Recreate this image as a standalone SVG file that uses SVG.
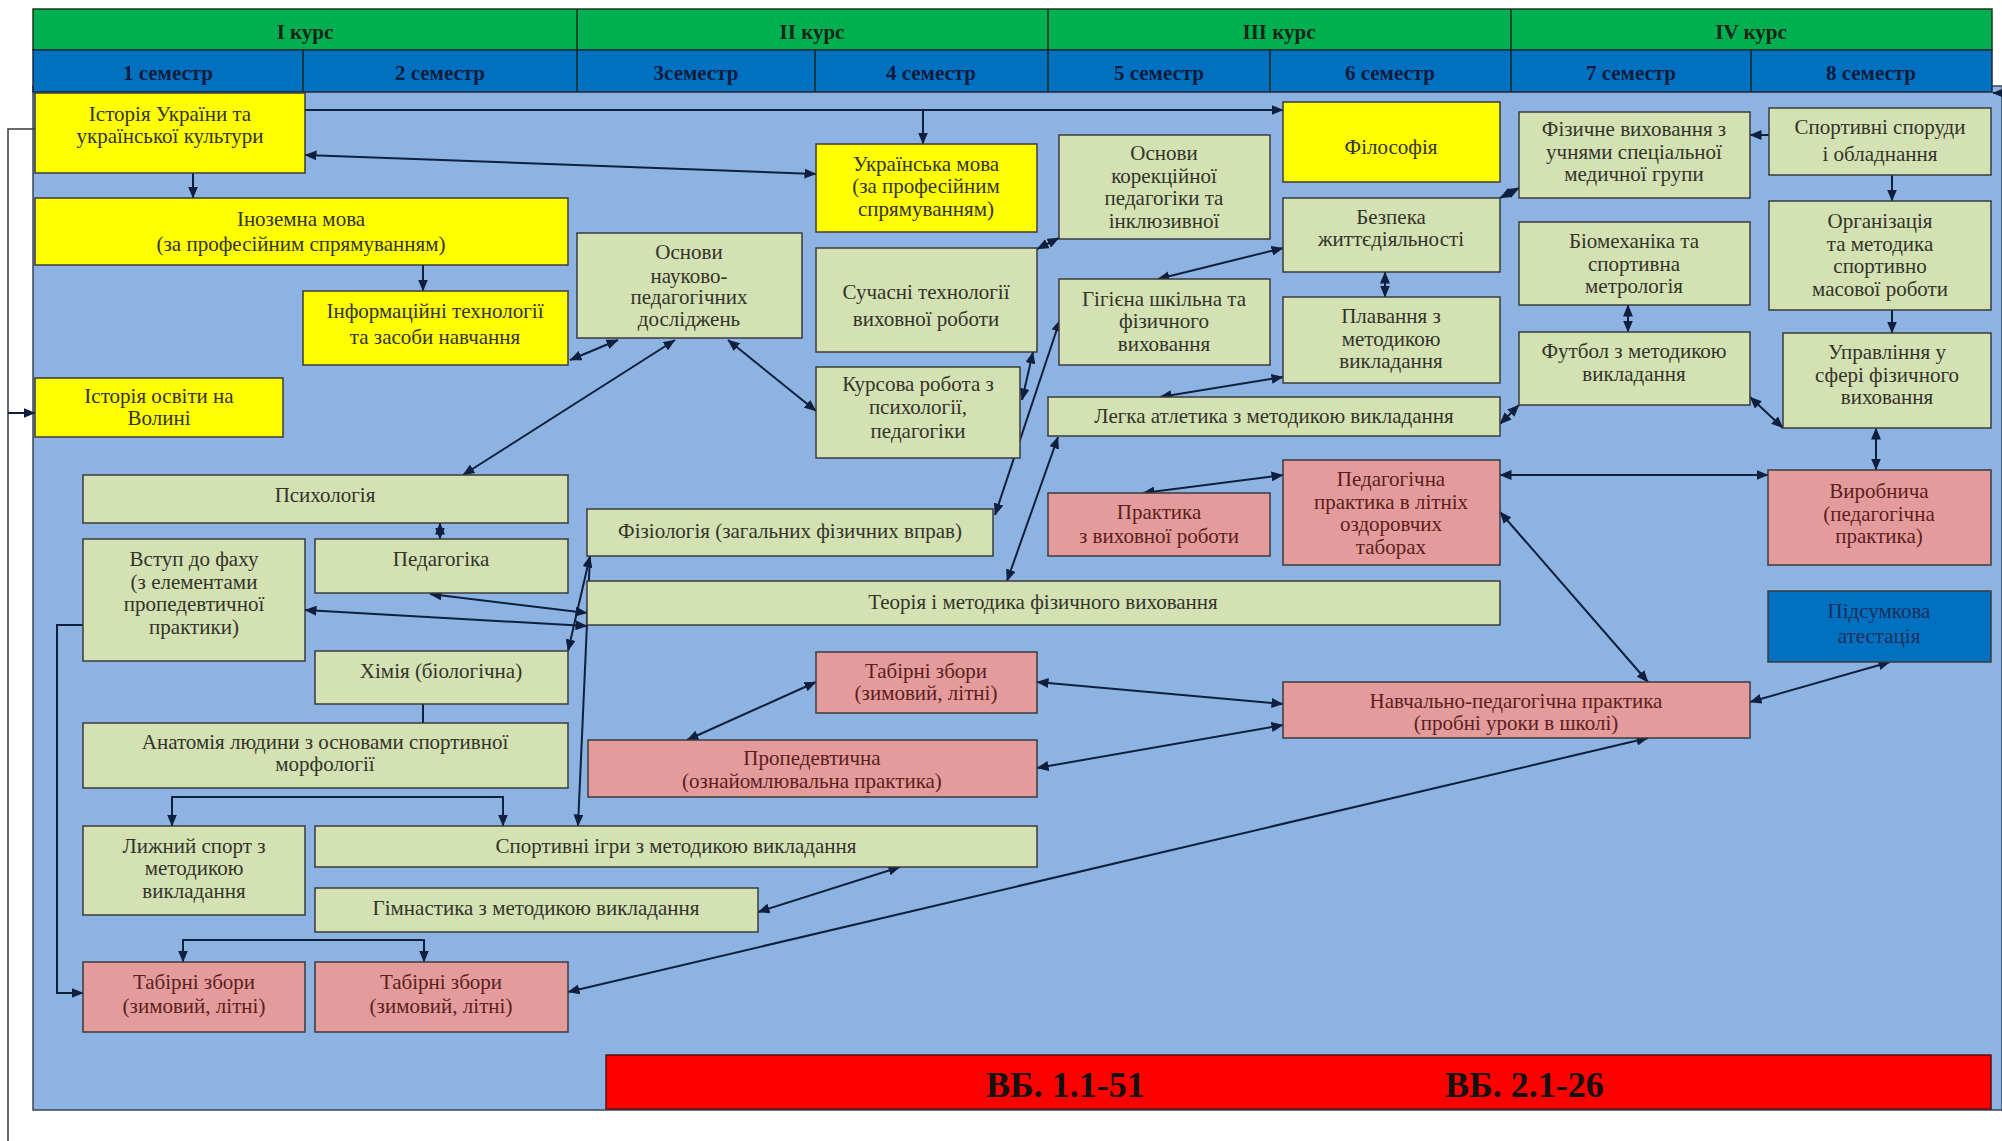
<svg xmlns="http://www.w3.org/2000/svg" width="2002" height="1141" viewBox="0 0 2002 1141">
<style>
.bx{stroke:#3b3b3b;stroke-width:1.5}
.yl{fill:#FFFF00}
.gr{fill:#D4E1B3}
.pk{fill:#E39C9B}
.bl{fill:#0070C0}
.t{font-family:"Liberation Serif","Times New Roman",serif;font-size:21px;text-anchor:middle;fill:#33332a}
.tp{fill:#5c1d1d}
.tb{fill:#1a2f5a}
.h{font-family:"Liberation Serif","Times New Roman",serif;font-size:21px;font-weight:bold;text-anchor:middle;fill:#14261a}
.hs{fill:#0b1c3d}
.c{fill:none;stroke:#0f1f3d;stroke-width:2}
.cl{fill:none;stroke:#3a3a3a;stroke-width:1.5}
.vb{font-family:"Liberation Serif","Times New Roman",serif;font-size:36px;font-weight:bold;fill:#111}
</style>
<defs>
<marker id="a" viewBox="0 0 12 10" refX="11.5" refY="5" markerWidth="12" markerHeight="10" markerUnits="userSpaceOnUse" orient="auto-start-reverse"><path d="M0,0 L12,5 L0,10 z" fill="#0f1f3d"/></marker>
</defs>
<rect x="0" y="0" width="2002" height="1141" fill="#ffffff"/>
<rect x="33" y="86" width="1969" height="1024" fill="#8DB3E2" stroke="#3a4656" stroke-width="1.5"/>
<g id="header">
<rect x="33" y="9" width="1959" height="41" fill="#00B050" stroke="#1e3a1e" stroke-width="1.5"/>
<rect x="33" y="50" width="1959" height="42" fill="#0070C0" stroke="#1e2a3a" stroke-width="1.5"/>
<path d="M577,9V92 M1048,9V92 M1511,9V92 M303,50V92 M815,50V92 M1270,50V92 M1751,50V92" stroke="#1e2a1e" stroke-width="1.5"/>
<text class="h" x="305" y="39">I курс</text>
<text class="h" x="812" y="39">II курс</text>
<text class="h" x="1279" y="39">III курс</text>
<text class="h" x="1751" y="39">IV курс</text>
<text class="h hs" x="168" y="80">1 семестр</text>
<text class="h hs" x="440" y="80">2 семестр</text>
<text class="h hs" x="696" y="80">3семестр</text>
<text class="h hs" x="931" y="80">4 семестр</text>
<text class="h hs" x="1159" y="80">5 семестр</text>
<text class="h hs" x="1390" y="80">6 семестр</text>
<text class="h hs" x="1631" y="80">7 семестр</text>
<text class="h hs" x="1871" y="80">8 семестр</text>
</g>
<g id="connectors">
<path class="c" d="M305,110 H1283" marker-end="url(#a)"/>
<path class="c" d="M923,110 V144" marker-end="url(#a)"/>
<path class="c" d="M305,155 L816,174" marker-start="url(#a)" marker-end="url(#a)"/>
<path class="c" d="M193,173 V198" marker-end="url(#a)"/>
<path class="c" d="M423,265 V291" marker-end="url(#a)"/>
<path class="cl" d="M35,129 H8 V1141"/>
<path class="c" d="M8,413 H35" marker-end="url(#a)"/>
<path class="c" d="M570,360 L618,340" marker-start="url(#a)" marker-end="url(#a)"/>
<path class="c" d="M675,340 L463,475" marker-start="url(#a)" marker-end="url(#a)"/>
<path class="c" d="M728,340 L816,411" marker-start="url(#a)" marker-end="url(#a)"/>
<path class="c" d="M1033,352 L1022,400" marker-start="url(#a)" marker-end="url(#a)"/>
<path class="c" d="M1037,249 L1059,238" marker-start="url(#a)" marker-end="url(#a)"/>
<path class="c" d="M1283,248 L1158,279" marker-start="url(#a)" marker-end="url(#a)"/>
<path class="c" d="M1385,272 V297" marker-start="url(#a)" marker-end="url(#a)"/>
<path class="c" d="M1283,377 L1160,397" marker-start="url(#a)" marker-end="url(#a)"/>
<path class="c" d="M1060,320 L995,515" marker-start="url(#a)" marker-end="url(#a)"/>
<path class="c" d="M1058,437 L1007,581" marker-start="url(#a)" marker-end="url(#a)"/>
<path class="c" d="M1283,475 L1143,493" marker-start="url(#a)" marker-end="url(#a)"/>
<path class="c" d="M1519,188 L1500,198" marker-start="url(#a)" marker-end="url(#a)"/>
<path class="c" d="M1769,135 H1750" marker-end="url(#a)"/>
<path class="c" d="M1892,175 V201" marker-end="url(#a)"/>
<path class="c" d="M1892,310 V333" marker-end="url(#a)"/>
<path class="c" d="M1628,305 V332" marker-start="url(#a)" marker-end="url(#a)"/>
<path class="c" d="M1519,405 L1500,424" marker-start="url(#a)" marker-end="url(#a)"/>
<path class="c" d="M1750,397 L1783,428" marker-start="url(#a)" marker-end="url(#a)"/>
<path class="c" d="M1876,428 V470" marker-start="url(#a)" marker-end="url(#a)"/>
<path class="c" d="M1500,475 H1768" marker-start="url(#a)" marker-end="url(#a)"/>
<path class="c" d="M1500,512 L1648,682" marker-start="url(#a)" marker-end="url(#a)"/>
<path class="c" d="M1750,702 L1890,662" marker-start="url(#a)" marker-end="url(#a)"/>
<path class="c" d="M1037,682 L1283,704" marker-start="url(#a)" marker-end="url(#a)"/>
<path class="c" d="M1037,768 L1283,725" marker-start="url(#a)" marker-end="url(#a)"/>
<path class="c" d="M816,682 L687,740" marker-start="url(#a)" marker-end="url(#a)"/>
<path class="c" d="M568,992 L1648,738" marker-start="url(#a)" marker-end="url(#a)"/>
<path class="c" d="M758,912 L900,867" marker-start="url(#a)" marker-end="url(#a)"/>
<path class="c" d="M440,523 V539" marker-start="url(#a)" marker-end="url(#a)"/>
<path class="c" d="M430,594 L587,613" marker-start="url(#a)" marker-end="url(#a)"/>
<path class="c" d="M305,610 L587,626" marker-start="url(#a)" marker-end="url(#a)"/>
<path class="c" d="M590,556 L568,651" marker-start="url(#a)" marker-end="url(#a)"/>
<path class="c" d="M590,556 L578,826" marker-end="url(#a)"/>
<path class="c" d="M423,704 V723"/>
<path class="c" d="M172,826 V797 H503 V826" marker-start="url(#a)" marker-end="url(#a)"/>
<path class="c" d="M183,962 V940 H424 V962" marker-start="url(#a)" marker-end="url(#a)"/>
<path class="c" d="M83,625 H57 V993 H83" marker-end="url(#a)"/>
<path class="c" d="M2002,93 H1993" marker-end="url(#a)"/>
</g>
<g id="n-istoriia-ukr"><rect class="bx yl" x="35" y="93" width="270" height="80"/><text class="t"><tspan x="170" y="121">Історія України та</tspan><tspan x="170" y="143">української культури</tspan></text></g>
<g id="n-inozemna"><rect class="bx yl" x="35" y="198" width="533" height="67"/><text class="t"><tspan x="301" y="226">Іноземна мова</tspan><tspan x="301" y="251">(за професійним спрямуванням)</tspan></text></g>
<g id="n-inform"><rect class="bx yl" x="303" y="291" width="265" height="74"/><text class="t"><tspan x="435" y="318">Інформаційні технології</tspan><tspan x="435" y="344">та засоби навчання</tspan></text></g>
<g id="n-istoriia-osv"><rect class="bx yl" x="35" y="378" width="248" height="59"/><text class="t"><tspan x="159" y="403">Історія освіти на</tspan><tspan x="159" y="425">Волині</tspan></text></g>
<g id="n-ukr-mova"><rect class="bx yl" x="816" y="144" width="221" height="88"/><text class="t"><tspan x="926" y="171">Українська мова</tspan><tspan x="926" y="193">(за професійним</tspan><tspan x="926" y="216">спрямуванням)</tspan></text></g>
<g id="n-filosofiia"><rect class="bx yl" x="1283" y="102" width="217" height="80"/><text class="t"><tspan x="1391" y="154">Філософія</tspan></text></g>
<g id="n-osnovy-nauk"><rect class="bx gr" x="577" y="233" width="225" height="105"/><text class="t"><tspan x="689" y="259">Основи</tspan><tspan x="689" y="283">науково-</tspan><tspan x="689" y="304">педагогічних</tspan><tspan x="689" y="326">досліджень</tspan></text></g>
<g id="n-suchasni"><rect class="bx gr" x="816" y="248" width="221" height="104"/><text class="t"><tspan x="926" y="299">Сучасні технології</tspan><tspan x="926" y="326">виховної роботи</tspan></text></g>
<g id="n-kursova"><rect class="bx gr" x="816" y="367" width="204" height="91"/><text class="t"><tspan x="918" y="391">Курсова робота з</tspan><tspan x="918" y="414">психології,</tspan><tspan x="918" y="438">педагогіки</tspan></text></g>
<g id="n-korek"><rect class="bx gr" x="1059" y="135" width="211" height="104"/><text class="t"><tspan x="1164" y="160">Основи</tspan><tspan x="1164" y="183">корекційної</tspan><tspan x="1164" y="205">педагогіки та</tspan><tspan x="1164" y="228">інклюзивної</tspan></text></g>
<g id="n-bezpeka"><rect class="bx gr" x="1283" y="198" width="217" height="74"/><text class="t"><tspan x="1391" y="224">Безпека</tspan><tspan x="1391" y="246">життєдіяльності</tspan></text></g>
<g id="n-gigiena"><rect class="bx gr" x="1059" y="279" width="211" height="86"/><text class="t"><tspan x="1164" y="306">Гігієна шкільна та</tspan><tspan x="1164" y="328">фізичного</tspan><tspan x="1164" y="351">виховання</tspan></text></g>
<g id="n-plavannia"><rect class="bx gr" x="1283" y="297" width="217" height="86"/><text class="t"><tspan x="1391" y="323">Плавання з</tspan><tspan x="1391" y="346">методикою</tspan><tspan x="1391" y="368">викладання</tspan></text></g>
<g id="n-legka"><rect class="bx gr" x="1048" y="397" width="452" height="39"/><text class="t"><tspan x="1274" y="423">Легка атлетика з методикою викладання</tspan></text></g>
<g id="n-fiz-vykh"><rect class="bx gr" x="1519" y="112" width="231" height="86"/><text class="t"><tspan x="1634" y="136">Фізичне виховання з</tspan><tspan x="1634" y="159">учнями спеціальної</tspan><tspan x="1634" y="181">медичної групи</tspan></text></g>
<g id="n-sporudy"><rect class="bx gr" x="1769" y="108" width="222" height="67"/><text class="t"><tspan x="1880" y="134">Спортивні споруди</tspan><tspan x="1880" y="161">і обладнання</tspan></text></g>
<g id="n-biomekh"><rect class="bx gr" x="1519" y="222" width="231" height="83"/><text class="t"><tspan x="1634" y="248">Біомеханіка та</tspan><tspan x="1634" y="271">спортивна</tspan><tspan x="1634" y="293">метрологія</tspan></text></g>
<g id="n-organiz"><rect class="bx gr" x="1769" y="201" width="222" height="109"/><text class="t"><tspan x="1880" y="228">Організація</tspan><tspan x="1880" y="251">та методика</tspan><tspan x="1880" y="273">спортивно</tspan><tspan x="1880" y="296">масової роботи</tspan></text></g>
<g id="n-futbol"><rect class="bx gr" x="1519" y="332" width="231" height="73"/><text class="t"><tspan x="1634" y="358">Футбол з методикою</tspan><tspan x="1634" y="381">викладання</tspan></text></g>
<g id="n-upravl"><rect class="bx gr" x="1783" y="333" width="208" height="95"/><text class="t"><tspan x="1887" y="359">Управління у</tspan><tspan x="1887" y="382">сфері фізичного</tspan><tspan x="1887" y="404">виховання</tspan></text></g>
<g id="n-ped-prakt-tabory"><rect class="bx pk" x="1283" y="460" width="217" height="105"/><text class="t tp"><tspan x="1391" y="486">Педагогічна</tspan><tspan x="1391" y="509">практика в літніх</tspan><tspan x="1391" y="531">оздоровчих</tspan><tspan x="1391" y="554">таборах</tspan></text></g>
<g id="n-prakt-vykh"><rect class="bx pk" x="1048" y="493" width="222" height="63"/><text class="t tp"><tspan x="1159" y="519">Практика</tspan><tspan x="1159" y="543">з виховної роботи</tspan></text></g>
<g id="n-vyrobnycha"><rect class="bx pk" x="1768" y="470" width="223" height="95"/><text class="t tp"><tspan x="1879" y="498">Виробнича</tspan><tspan x="1879" y="521">(педагогічна</tspan><tspan x="1879" y="543">практика)</tspan></text></g>
<g id="n-pidsumkova"><rect class="bx bl" x="1768" y="591" width="223" height="71"/><text class="t tb"><tspan x="1879" y="618">Підсумкова</tspan><tspan x="1879" y="643">атестація</tspan></text></g>
<g id="n-teoriia"><rect class="bx gr" x="587" y="581" width="913" height="44"/><text class="t"><tspan x="1043" y="609">Теорія і методика фізичного виховання</tspan></text></g>
<g id="n-navch-ped"><rect class="bx pk" x="1283" y="682" width="467" height="56"/><text class="t tp"><tspan x="1516" y="708">Навчально-педагогічна практика</tspan><tspan x="1516" y="730">(пробні уроки в школі)</tspan></text></g>
<g id="n-psykholohiia"><rect class="bx gr" x="83" y="475" width="485" height="48"/><text class="t"><tspan x="325" y="502">Психологія</tspan></text></g>
<g id="n-vstup"><rect class="bx gr" x="83" y="539" width="222" height="122"/><text class="t"><tspan x="194" y="566">Вступ до фаху</tspan><tspan x="194" y="589">(з елементами</tspan><tspan x="194" y="611">пропедевтичної</tspan><tspan x="194" y="634">практики)</tspan></text></g>
<g id="n-pedahohika"><rect class="bx gr" x="315" y="539" width="253" height="54"/><text class="t"><tspan x="441" y="566">Педагогіка</tspan></text></g>
<g id="n-khimiia"><rect class="bx gr" x="315" y="651" width="253" height="53"/><text class="t"><tspan x="441" y="678">Хімія (біологічна)</tspan></text></g>
<g id="n-anatomiia"><rect class="bx gr" x="83" y="723" width="485" height="65"/><text class="t"><tspan x="325" y="749">Анатомія людини з основами спортивної</tspan><tspan x="325" y="771">морфології</tspan></text></g>
<g id="n-fiziolohiia"><rect class="bx gr" x="587" y="509" width="406" height="47"/><text class="t"><tspan x="790" y="538">Фізіологія (загальних фізичних вправ)</tspan></text></g>
<g id="n-tabirni-3"><rect class="bx pk" x="816" y="652" width="221" height="61"/><text class="t tp"><tspan x="926" y="678">Табірні збори</tspan><tspan x="926" y="700">(зимовий, літні)</tspan></text></g>
<g id="n-propedevt"><rect class="bx pk" x="588" y="740" width="449" height="57"/><text class="t tp"><tspan x="812" y="765">Пропедевтична</tspan><tspan x="812" y="788">(ознайомлювальна практика)</tspan></text></g>
<g id="n-lyzhnyi"><rect class="bx gr" x="83" y="826" width="222" height="89"/><text class="t"><tspan x="194" y="853">Лижний спорт з</tspan><tspan x="194" y="875">методикою</tspan><tspan x="194" y="898">викладання</tspan></text></g>
<g id="n-sport-ihry"><rect class="bx gr" x="315" y="826" width="722" height="41"/><text class="t"><tspan x="676" y="853">Спортивні ігри з методикою викладання</tspan></text></g>
<g id="n-himnastyka"><rect class="bx gr" x="315" y="888" width="443" height="44"/><text class="t"><tspan x="536" y="915">Гімнастика з методикою викладання</tspan></text></g>
<g id="n-tabirni-1"><rect class="bx pk" x="83" y="962" width="222" height="70"/><text class="t tp"><tspan x="194" y="989">Табірні збори</tspan><tspan x="194" y="1013">(зимовий, літні)</tspan></text></g>
<g id="n-tabirni-2"><rect class="bx pk" x="315" y="962" width="253" height="70"/><text class="t tp"><tspan x="441" y="989">Табірні збори</tspan><tspan x="441" y="1013">(зимовий, літні)</tspan></text></g>
<g id="n-vb"><rect x="606" y="1055" width="1385" height="54" fill="#FF0000" stroke="#5a1010" stroke-width="1.5"/><text class="vb" x="986" y="1097">ВБ. 1.1-51</text><text class="vb" x="1445" y="1097">ВБ. 2.1-26</text></g>
</svg>
